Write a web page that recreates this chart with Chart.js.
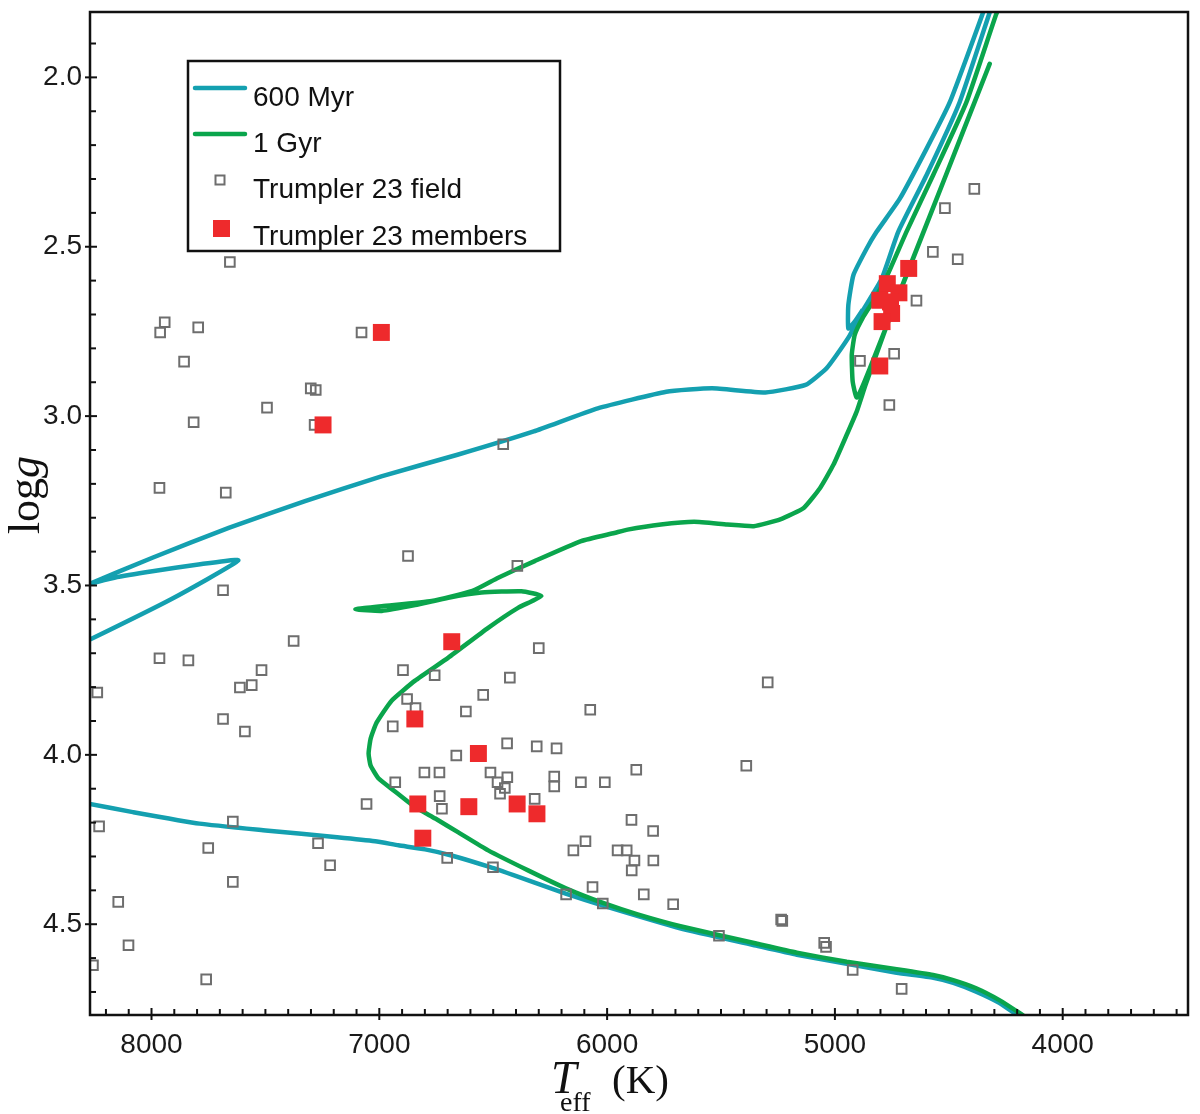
<!DOCTYPE html>
<html>
<head>
<meta charset="utf-8">
<script src="https://cdn.jsdelivr.net/npm/chart.js@4.4.1/dist/chart.umd.min.js"></script>
<style>
  html, body { margin: 0; padding: 0; background: #fff; }
  #hr { display: block; }
</style>
</head>
<body>
<canvas id="hr" width="1200" height="1114"></canvas>
<script>
// tick labels
const xTickValues = [8000, 7000, 6000, 5000, 4000];
const yTickValues = [2.0, 2.5, 3.0, 3.5, 4.0, 4.5];

const seriesNames = ["600 Myr", "1 Gyr", "Trumpler 23 field", "Trumpler 23 members"];

// 600 Myr isochrone (Teff, log g), traced along the track
const iso600Teff = [4139,4192,4279,4380,4480,4568,4729,4948,5167,5346,5680,6014,6182,6349,6516,6683,6799,6916,7018,7185,7499,7790,8082,8271,8359,8480,8400,8268,7912,7619,7794,7996,8163,8268,8300,7996,7661,7326,6991,6657,6322,6041,5740,5539,5305,5129,5037,4992,4934,4890,4795,4722,4598,4453,4321,4292,4327,4350,4496,4598,4715,4817,4861,4919,4941,4941,4913,4878];
const iso600Logg = [4.795,4.772,4.732,4.699,4.673,4.658,4.643,4.617,4.590,4.563,4.512,4.446,4.410,4.370,4.331,4.297,4.279,4.267,4.255,4.243,4.223,4.203,4.169,4.145,4.132,4.000,3.700,3.659,3.540,3.426,3.438,3.458,3.477,3.495,3.503,3.418,3.330,3.251,3.178,3.114,3.045,2.977,2.928,2.918,2.930,2.908,2.859,2.819,2.761,2.702,2.595,2.456,2.289,2.074,1.809,1.750,1.750,1.809,2.074,2.211,2.358,2.456,2.506,2.584,2.672,2.741,2.721,2.686];

// 1 Gyr isochrone
const iso1GyrTeff = [4139,4190,4278,4380,4481,4569,4729,4948,5167,5345,5678,5866,6015,6181,6347,6522,6653,6754,6846,6937,7003,7038,7047,7038,7012,6946,6843,6697,6522,6391,6289,6376,6551,6697,6843,6989,7105,6989,6770,6595,6478,6318,6114,5968,5910,5764,5618,5473,5356,5240,5137,5065,5006,4948,4904,4865,4760,4646,4513,4410,4321,4847,4904,4922,4926,4913,4878,4834,4777,4686,4569,4423,4292,4253];
const iso1GyrLogg = [4.786,4.762,4.724,4.689,4.665,4.650,4.633,4.611,4.584,4.557,4.506,4.471,4.438,4.394,4.341,4.282,4.229,4.188,4.153,4.105,4.070,4.032,3.996,3.952,3.905,3.840,3.781,3.713,3.625,3.566,3.531,3.517,3.521,3.536,3.558,3.575,3.570,3.561,3.546,3.517,3.477,3.428,3.369,3.345,3.335,3.320,3.312,3.320,3.325,3.305,3.271,3.212,3.143,3.055,2.986,2.907,2.710,2.515,2.289,2.112,1.961,2.860,2.945,2.898,2.819,2.760,2.710,2.663,2.595,2.456,2.289,2.074,1.814,1.750];

// field stars
const fieldTeff = [7656,7942,7962,7795,7857,7078,7301,7279,7493,7815,7284,6456,7965,7674,6874,6394,7686,7376,6300,7965,7838,7517,6896,6757,6427,7560,7612,8238,6544,6878,6841,6620,6074,7686,7590,6941,6439,6309,6222,6662,6802,6736,6512,6438,6481,6449,6470,6232,6232,6115,6010,5872,6930,7056,6735,6725,6318,5893,5295,5389,5798,7269,7216,6702,6501,6148,6095,5954,5914,5880,5892,5797,6180,6064,6019,5839,5710,5509,5236,5231,5047,5039,4922,8230,7643,7751,7643,8146,8101,8257,7760,4707,4388,4517,4570,4461,4642,4740,4890,4761];
const fieldLogg = [2.545,2.723,2.753,2.738,2.839,2.753,2.918,2.923,2.975,3.018,3.026,3.083,3.212,3.226,3.413,3.442,3.514,3.664,3.685,3.715,3.721,3.750,3.750,3.765,3.772,3.794,3.801,3.816,3.823,3.835,3.862,3.872,3.867,3.894,3.931,3.916,3.966,3.975,3.981,4.002,4.052,4.052,4.052,4.066,4.081,4.098,4.115,4.064,4.093,4.081,4.081,4.044,4.081,4.145,4.122,4.159,4.130,4.192,3.786,4.032,4.225,4.261,4.326,4.304,4.332,4.282,4.255,4.282,4.282,4.312,4.341,4.312,4.412,4.390,4.439,4.412,4.441,4.534,4.486,4.490,4.555,4.567,4.635,4.211,4.197,4.275,4.375,4.434,4.562,4.621,4.663,4.691,2.329,2.386,2.515,2.537,2.659,2.816,2.837,2.967];

// cluster members
const memberTeff = [6991,7247,6682,6844,6565,6831,6607,6395,6308,6809,4676,4770,4719,4803,4756,4751,4793,4803];
const memberLogg = [2.753,3.026,3.666,3.894,3.996,4.145,4.153,4.145,4.174,4.246,2.564,2.609,2.636,2.658,2.663,2.697,2.721,2.852];

const pts = (xs, ys) => xs.map((v, i) => ({ x: v, y: ys[i] }));

const tealColor = "#14a0b0";
const greenColor = "#0aa54c";
const fieldColor = "#6e6e6e";
const memberColor = "#ee2a2c";

const sans = "'Liberation Sans', Arial, sans-serif";
const serif = "'Liberation Serif', 'Times New Roman', serif";

// frame with inward minor ticks and crossing major ticks
const framePlugin = {
  id: "frame",
  afterDatasetsDraw(chart) {
    const { ctx, chartArea: a, scales: { x, y } } = chart;
    ctx.save();
    ctx.strokeStyle = "#111";
    ctx.lineWidth = 2;
    for (let i = 35; i <= 82; i++) {
      const px = x.getPixelForValue(i * 100);
      const major = i % 10 === 0;
      ctx.beginPath();
      ctx.moveTo(px, a.bottom - (major ? 7 : 6));
      ctx.lineTo(px, a.bottom + (major ? 5 : 0));
      ctx.stroke();
    }
    for (let i = 19; i <= 47; i++) {
      const py = y.getPixelForValue(i / 10);
      const major = i % 5 === 0;
      ctx.beginPath();
      ctx.moveTo(a.left + (major ? 7 : 6), py);
      ctx.lineTo(a.left - (major ? 5 : 0), py);
      ctx.stroke();
    }
    ctx.lineWidth = 2.5;
    ctx.strokeRect(a.left, a.top, a.right - a.left, a.bottom - a.top);
    ctx.restore();
  }
};

// axis titles and legend box
const decorPlugin = {
  id: "decor",
  afterDraw(chart) {
    const ctx = chart.ctx;
    const ds = chart.data.datasets;
    ctx.save();

    // legend
    ctx.fillStyle = "#fff";
    ctx.fillRect(188, 61, 372, 190);
    ctx.strokeStyle = "#111";
    ctx.lineWidth = 2.5;
    ctx.strokeRect(188, 61, 372, 190);

    ctx.lineCap = "round";
    ctx.lineWidth = 4.5;
    ctx.strokeStyle = ds[0].borderColor;
    ctx.beginPath(); ctx.moveTo(195, 88); ctx.lineTo(245, 88); ctx.stroke();
    ctx.strokeStyle = ds[1].borderColor;
    ctx.beginPath(); ctx.moveTo(195, 134); ctx.lineTo(245, 134); ctx.stroke();

    ctx.lineWidth = 2;
    ctx.strokeStyle = ds[2].borderColor;
    ctx.strokeRect(215.5, 175.5, 9, 9);
    ctx.fillStyle = ds[3].backgroundColor;
    ctx.fillRect(213, 220, 17, 17);

    ctx.fillStyle = "#111";
    ctx.font = "28px " + sans;
    ctx.textBaseline = "middle";
    ctx.textAlign = "left";
    ctx.fillText(ds[0].label, 253, 98);
    ctx.fillText(ds[1].label, 253, 144);
    ctx.fillText(ds[2].label, 253, 190);
    ctx.fillText(ds[3].label, 253, 237);

    // y title: log g
    ctx.save();
    ctx.translate(39, 495);
    ctx.rotate(-Math.PI / 2);
    ctx.textBaseline = "alphabetic";
    ctx.font = "44px " + serif;
    const w1 = ctx.measureText("log").width;
    ctx.font = "italic 44px " + serif;
    const w2 = ctx.measureText("g").width;
    const start = -(w1 + w2) / 2;
    ctx.font = "44px " + serif;
    ctx.fillText("log", start, 0);
    ctx.font = "italic 44px " + serif;
    ctx.fillText("g", start + w1, 0);
    ctx.restore();

    // x title: T_eff (K)
    ctx.textBaseline = "alphabetic";
    ctx.font = "italic 46px " + serif;
    ctx.fillText("T", 551, 1093);
    ctx.font = "28px " + serif;
    ctx.fillText("eff", 560, 1111);
    ctx.font = "41px " + serif;
    ctx.fillText("(K)", 612, 1093);

    ctx.restore();
  }
};

new Chart(document.getElementById("hr"), {
  type: "scatter",
  data: {
    datasets: [
      {
        label: seriesNames[0],
        data: pts(iso600Teff, iso600Logg),
        showLine: true,
        borderColor: tealColor,
        borderWidth: 4.5,
        pointRadius: 0,
        tension: 0.15,
        clip: 0,
        order: 4
      },
      {
        label: seriesNames[1],
        data: pts(iso1GyrTeff, iso1GyrLogg),
        showLine: true,
        borderColor: greenColor,
        borderWidth: 4.5,
        pointRadius: 0,
        tension: 0.15,
        clip: 0,
        order: 3
      },
      {
        label: seriesNames[2],
        data: pts(fieldTeff, fieldLogg),
        pointStyle: "rect",
        pointRadius: 6.8,
        borderWidth: 2,
        borderColor: fieldColor,
        backgroundColor: "rgba(255,255,255,0)",
        clip: 0,
        order: 2
      },
      {
        label: seriesNames[3],
        data: pts(memberTeff, memberLogg),
        pointStyle: "rect",
        pointRadius: 12,
        borderWidth: 0,
        borderColor: memberColor,
        backgroundColor: memberColor,
        clip: 0,
        order: 1
      }
    ]
  },
  options: {
    responsive: false,
    animation: false,
    layout: { padding: { top: 9, right: 6, left: 0, bottom: 0 } },
    plugins: {
      legend: { display: false },
      tooltip: { enabled: false }
    },
    scales: {
      x: {
        type: "linear",
        reverse: true,
        min: 3450,
        max: 8270,
        afterBuildTicks: s => { s.ticks = xTickValues.map(v => ({ value: v })); },
        afterFit: s => { s.height = 99; s.paddingLeft = 0; s.paddingRight = 0; },
        grid: { display: false, drawTicks: false },
        border: { display: false },
        ticks: {
          color: "#1a1a1a",
          font: { family: sans, size: 28 },
          padding: 13,
          maxRotation: 0,
          callback: v => String(v)
        }
      },
      y: {
        type: "linear",
        reverse: true,
        min: 1.807,
        max: 4.768,
        afterBuildTicks: s => { s.ticks = yTickValues.map(v => ({ value: v })); },
        afterFit: s => { s.width = 90; s.paddingTop = 0; s.paddingBottom = 0; },
        grid: { display: false, drawTicks: false },
        border: { display: false },
        ticks: {
          color: "#1a1a1a",
          font: { family: sans, size: 28 },
          padding: 8,
          callback: v => v.toFixed(1)
        }
      }
    }
  },
  plugins: [framePlugin, decorPlugin]
});
</script>
</body>
</html>
